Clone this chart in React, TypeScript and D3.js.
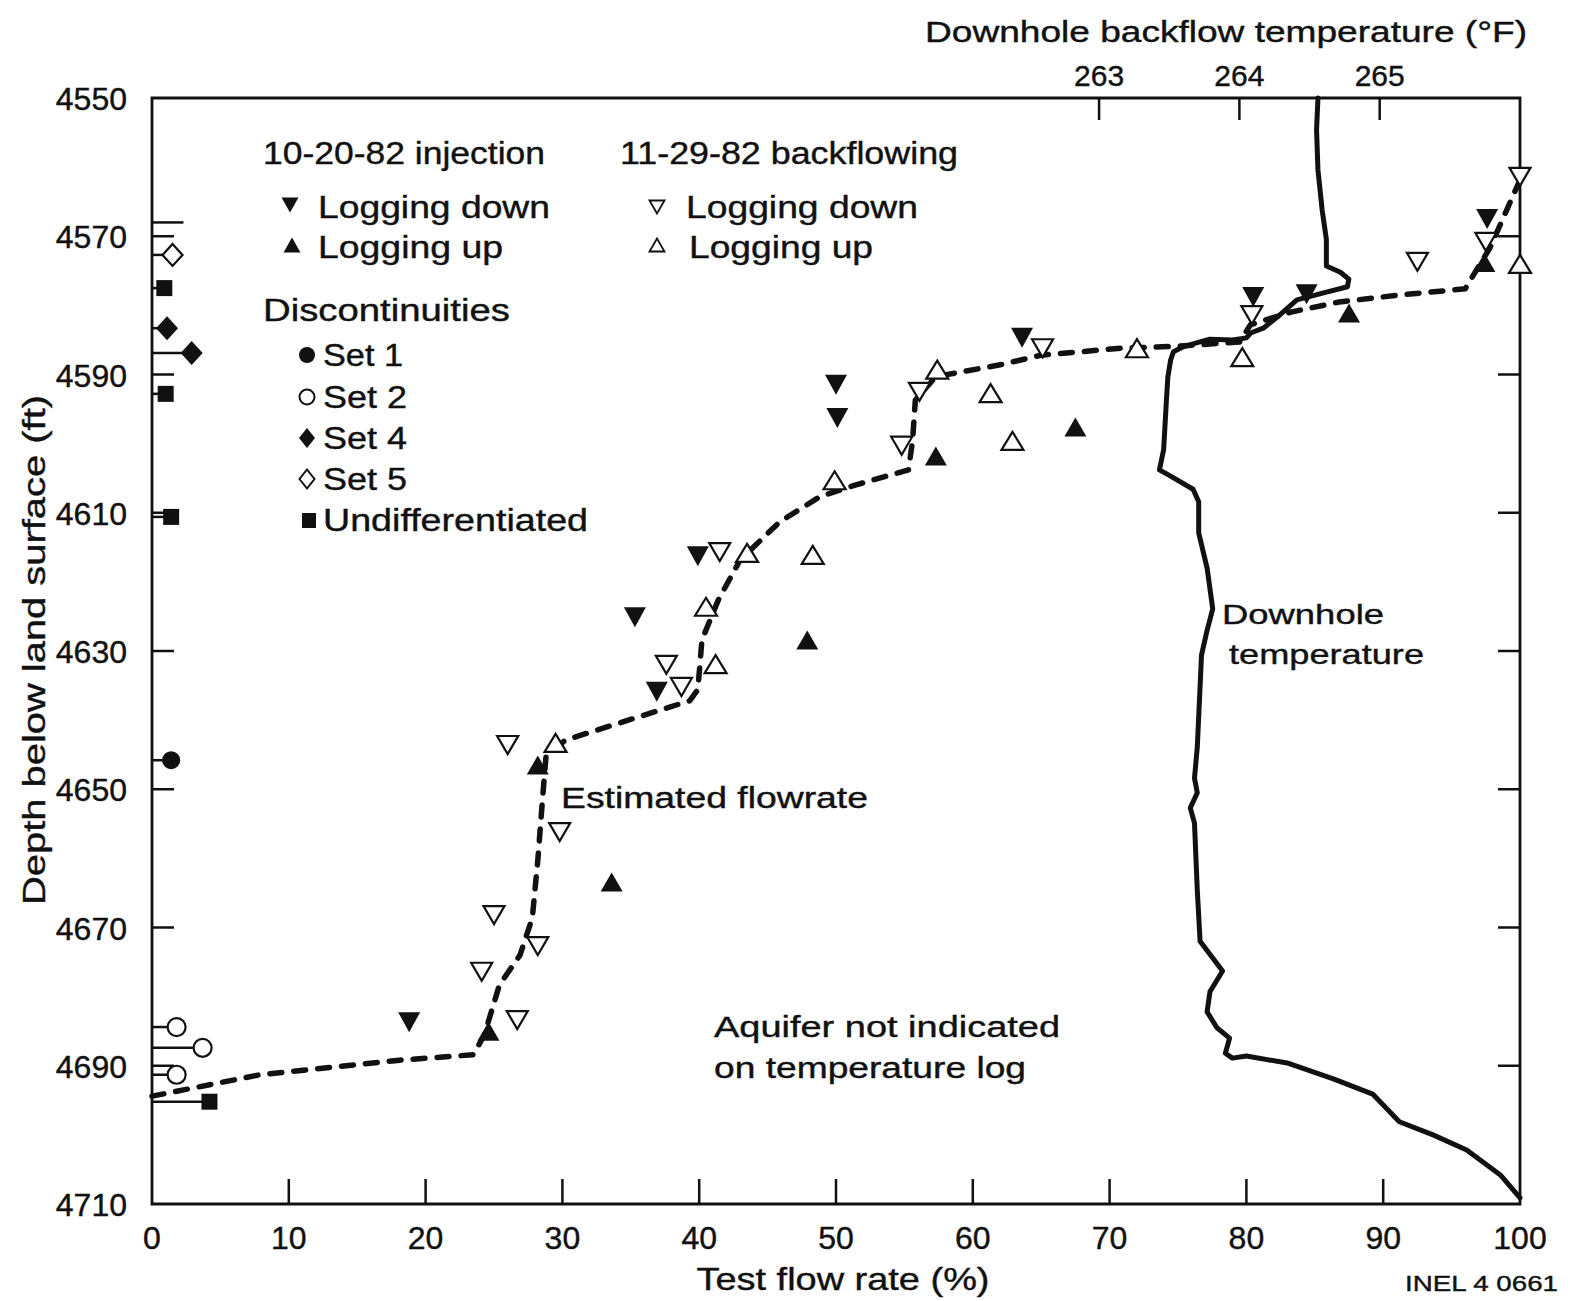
import React from "react";
import * as d3 from "d3";

// ---------- data ----------
const flowTicks = [0, 10, 20, 30, 40, 50, 60, 70, 80, 90, 100];
const depthTicks = [4550, 4570, 4590, 4610, 4630, 4650, 4670, 4690, 4710];
const innerDepthTicks = [4570, 4590, 4610, 4630, 4650, 4670, 4690];
const tempTicks = [263, 264, 265];

// [test flow rate %, depth ft]
const injectionDown = [
  [18.8, 4683.7], [36.9, 4635.9], [35.3, 4625.1], [39.9, 4616.3], [50.0, 4591.5],
  [50.1, 4596.3], [63.6, 4584.7], [80.5, 4578.8], [84.4, 4578.4], [97.6, 4567.5],
];
const injectionUp = [
  [97.4, 4573.8], [87.5, 4581.1], [67.5, 4597.6], [57.3, 4601.8], [47.9, 4628.4],
  [28.2, 4646.5], [33.6, 4663.4], [24.6, 4685.0],
];
const backflowDown = [
  [100, 4561.4], [97.5, 4570.8], [92.5, 4573.7], [80.4, 4581.4], [65.1, 4586.2],
  [56.1, 4592.5], [54.8, 4600.3], [41.5, 4615.7], [37.6, 4632.0], [38.7, 4635.2],
  [26.0, 4643.6], [29.8, 4656.2], [25.0, 4668.2], [28.2, 4672.7], [24.1, 4676.4],
  [26.7, 4683.4],
];
const backflowUp = [
  [100, 4574.0], [79.7, 4587.5], [72.0, 4586.2], [57.4, 4589.3], [61.3, 4592.7],
  [62.9, 4599.6], [49.9, 4605.3], [43.5, 4615.8], [48.3, 4616.1], [40.5, 4623.6],
  [41.2, 4631.9], [29.5, 4643.3],
];

// discontinuities [flow %, depth]
const set1 = [[1.4, 4645.8]];
const set2 = [[1.8, 4684.4], [3.7, 4687.4], [1.8, 4691.3]];
const set4 = [[1.1, 4583.3], [2.9, 4586.9]];
const set5 = [[1.5, 4572.7]];
const undifferentiated = [[0.9, 4577.5], [1.0, 4592.8], [1.4, 4610.6], [4.2, 4695.2]];
const bareStems = [[2.3, 4568.0]];

// estimated flowrate [flow %, depth]
const flowrateLine = [
  [0, 4694.4], [7.9, 4691.3], [18.1, 4689.2], [23.5, 4688.4], [24.3, 4685.5],
  [25.4, 4678.3], [26.9, 4674.0], [27.8, 4668.6], [28.2, 4660.3], [28.6, 4650.1],
  [28.8, 4645.3], [30.2, 4642.9], [39.3, 4637.2], [39.9, 4635.6], [40.2, 4628.4],
  [41.4, 4622.6], [43.0, 4616.8], [45.9, 4611.3], [48.8, 4607.7], [51.4, 4606.0],
  [55.3, 4603.8], [55.6, 4599.5], [55.8, 4593.7], [57.3, 4590.3], [62.0, 4588.6],
  [65.0, 4587.2], [70.8, 4586.2], [75.1, 4585.9], [79.5, 4585.3], [80.3, 4582.8],
  [83.2, 4581.0], [86.8, 4579.5], [91.2, 4578.5], [96.0, 4577.6], [96.9, 4574.6],
  [97.8, 4571.7], [99.9, 4562.3],
];

// downhole temperature [°F, depth]
const temperatureLog = [
  [264.56, 4550.0], [264.55, 4554.6], [264.56, 4560.4], [264.59, 4566.2], [264.62, 4570.5],
  [264.62, 4574.3], [264.72, 4575.2], [264.78, 4576.2], [264.77, 4577.3], [264.60, 4578.2],
  [264.41, 4579.2], [264.27, 4581.7], [264.17, 4583.3], [264.08, 4584.0], [264.05, 4584.7],
  [263.95, 4585.0], [263.79, 4584.9], [263.70, 4585.4], [263.60, 4586.0], [263.53, 4586.7],
  [263.51, 4587.9], [263.49, 4590.4], [263.48, 4593.7], [263.46, 4600.9], [263.43, 4603.8],
  [263.51, 4604.7], [263.67, 4606.6], [263.71, 4608.4], [263.71, 4612.9], [263.77, 4618.0],
  [263.81, 4623.9], [263.77, 4627.0], [263.73, 4630.6], [263.72, 4635.1], [263.70, 4643.9],
  [263.68, 4648.4], [263.70, 4650.5], [263.65, 4652.7], [263.68, 4654.9], [263.70, 4664.6],
  [263.72, 4672.0], [263.88, 4676.3], [263.79, 4679.3], [263.77, 4682.2], [263.84, 4684.5],
  [263.93, 4686.0], [263.90, 4688.2], [263.95, 4688.9], [264.05, 4688.6], [264.34, 4689.6],
  [264.67, 4691.9], [264.95, 4694.1], [265.14, 4698.1], [265.38, 4700.0], [265.62, 4702.2],
  [265.86, 4705.8], [266.00, 4709.1],
];

const FONT = "'Liberation Sans', Arial, Helvetica, sans-serif";

function tri(cx: number, cy: number, w: number, h: number, down: boolean) {
  const p = d3.path();
  if (down) {
    p.moveTo(cx - w / 2, cy - h / 2);
    p.lineTo(cx + w / 2, cy - h / 2);
    p.lineTo(cx, cy + h / 2);
  } else {
    p.moveTo(cx - w / 2, cy + h / 2);
    p.lineTo(cx + w / 2, cy + h / 2);
    p.lineTo(cx, cy - h / 2);
  }
  p.closePath();
  return p.toString();
}

function diamond(cx: number, cy: number, w: number, h: number) {
  const p = d3.path();
  p.moveTo(cx, cy - h / 2);
  p.lineTo(cx + w / 2, cy);
  p.lineTo(cx, cy + h / 2);
  p.lineTo(cx - w / 2, cy);
  p.closePath();
  return p.toString();
}

function T(props: any) {
  const { children, size = 30, ...rest } = props;
  return (
    <text
      fontFamily={FONT}
      fontSize={size}
      fill="#111"
      stroke="#111"
      strokeWidth={0.4}
      lengthAdjust="spacingAndGlyphs"
      {...rest}
    >
      {children}
    </text>
  );
}

export default function App() {
  const left = 152, right = 1520, top = 98, bottom = 1204;
  const x = d3.scaleLinear().domain([0, 100]).range([left, right]);
  const y = d3.scaleLinear().domain([4550, 4710]).range([top, bottom]);
  const xt = d3.scaleLinear().domain([256.25, 266]).range([left, right]);

  const flowPath = d3
    .line<number[]>()
    .x((d) => x(d[0]))
    .y((d) => y(d[1]))(flowrateLine as number[][]);
  const tempPath = d3
    .line<number[]>()
    .x((d) => xt(d[0]))
    .y((d) => y(d[1]))
    .curve(d3.curveLinear)(temperatureLog as number[][]);

  const stroke = "#111";
  const stem = (d: number[], i: number) => (
    <line key={"s" + i} x1={left} x2={x(d[0])} y1={y(d[1])} y2={y(d[1])} stroke={stroke} strokeWidth={2.5} />
  );

  return (
    <svg
      width={1571}
      height={1301}
      style={{ position: "absolute", left: 0, top: 0, background: "#fff" }}
    >
      <rect x={0} y={0} width={1571} height={1301} fill="#fff" />

      {/* frame */}
      <path
        d={`M${left},${top}H${right}V${bottom}H${left}Z`}
        fill="none"
        stroke={stroke}
        strokeWidth={2.8}
      />

      {/* left & right depth ticks */}
      {innerDepthTicks.map((t) => (
        <g key={"yt" + t}>
          <line x1={left} x2={left + 22} y1={y(t)} y2={y(t)} stroke={stroke} strokeWidth={2.5} />
          <line x1={right} x2={right - 22} y1={y(t)} y2={y(t)} stroke={stroke} strokeWidth={2.5} />
        </g>
      ))}
      {depthTicks.map((t) => (
        <T key={"yl" + t} x={127} y={y(t) + 12} size={32} textAnchor="end">
          {t}
        </T>
      ))}

      {/* bottom flow ticks */}
      {flowTicks.map((t) => (
        <g key={"xt" + t}>
          {t > 0 && t < 100 && (
            <line x1={x(t)} x2={x(t)} y1={bottom} y2={bottom - 25} stroke={stroke} strokeWidth={2.5} />
          )}
          <T x={x(t)} y={1249} size={32} textAnchor="middle">
            {t}
          </T>
        </g>
      ))}

      {/* top temperature ticks */}
      {tempTicks.map((t) => (
        <g key={"tt" + t}>
          <line x1={xt(t)} x2={xt(t)} y1={top} y2={top + 22} stroke={stroke} strokeWidth={2.5} />
          <T x={xt(t)} y={86} size={30} textAnchor="middle">
            {t}
          </T>
        </g>
      ))}

      {/* axis titles */}
      <T x={1527} y={42} size={29} textAnchor="end" textLength={602}>
        Downhole backflow temperature (°F)
      </T>
      <T x={843} y={1290} size={32} textAnchor="middle" textLength={293}>
        Test flow rate (%)
      </T>
      <T transform="translate(45,650) rotate(-90)" x={0} y={0} size={31} textAnchor="middle" textLength={510}>
        Depth below land surface (ft)
      </T>
      <T x={1558} y={1291} size={22} textAnchor="end" textLength={153}>
        INEL 4 0661
      </T>

      {/* temperature log */}
      <path d={tempPath || ""} fill="none" stroke={stroke} strokeWidth={5} strokeLinejoin="round" strokeLinecap="round" />

      {/* estimated flowrate */}
      <path
        d={flowPath || ""}
        fill="none"
        stroke={stroke}
        strokeWidth={5.5}
        strokeDasharray="12 12"
        strokeLinecap="round"
        strokeLinejoin="round"
      />

      {/* discontinuity stems */}
      {[...set1, ...set2, ...set4, ...set5, ...undifferentiated, ...bareStems].map(stem)}
      {set1.map((d, i) => (
        <circle key={"a" + i} cx={x(d[0])} cy={y(d[1])} r={9} fill={stroke} />
      ))}
      {set2.map((d, i) => (
        <circle key={"b" + i} cx={x(d[0])} cy={y(d[1])} r={9} fill="#fff" stroke={stroke} strokeWidth={2.2} />
      ))}
      {set4.map((d, i) => (
        <path key={"c" + i} d={diamond(x(d[0]), y(d[1]), 22, 24)} fill={stroke} />
      ))}
      {set5.map((d, i) => (
        <path key={"d" + i} d={diamond(x(d[0]), y(d[1]), 20, 22)} fill="#fff" stroke={stroke} strokeWidth={2.2} />
      ))}
      {undifferentiated.map((d, i) => (
        <rect key={"e" + i} x={x(d[0]) - 8} y={y(d[1]) - 8} width={16} height={16} fill={stroke} />
      ))}

      {/* log points */}
      {backflowDown.map((d, i) => (
        <path key={"bd" + i} d={tri(x(d[0]), y(d[1]), 21, 18, true)} fill="#fff" stroke={stroke} strokeWidth={2.2} strokeLinejoin="miter" />
      ))}
      {backflowUp.map((d, i) => (
        <path key={"bu" + i} d={tri(x(d[0]), y(d[1]), 22, 18, false)} fill="#fff" stroke={stroke} strokeWidth={2.2} />
      ))}
      {injectionDown.map((d, i) => (
        <path key={"id" + i} d={tri(x(d[0]), y(d[1]), 22, 20, true)} fill={stroke} />
      ))}
      {injectionUp.map((d, i) => (
        <path key={"iu" + i} d={tri(x(d[0]), y(d[1]), 22, 19, false)} fill={stroke} />
      ))}

      {/* legend */}
      <T x={263} y={164} size={31} textLength={282}>10-20-82 injection</T>
      <T x={620} y={164} size={31} textLength={338}>11-29-82 backflowing</T>
      <path d={tri(290, 205, 17, 15, true)} fill={stroke} />
      <T x={318} y={218} size={31} textLength={232}>Logging down</T>
      <path d={tri(292, 245, 17, 15, false)} fill={stroke} />
      <T x={318} y={258} size={31} textLength={185}>Logging up</T>
      <path d={tri(657, 207, 15, 13, true)} fill="#fff" stroke={stroke} strokeWidth={1.8} />
      <T x={686} y={218} size={31} textLength={232}>Logging down</T>
      <path d={tri(657, 245, 15, 13, false)} fill="#fff" stroke={stroke} strokeWidth={1.8} />
      <T x={689} y={258} size={31} textLength={184}>Logging up</T>

      <T x={263} y={321} size={31} textLength={247}>Discontinuities</T>
      <circle cx={307} cy={355} r={8} fill={stroke} />
      <T x={323} y={366} size={31} textLength={80}>Set 1</T>
      <circle cx={307} cy={397} r={7.5} fill="#fff" stroke={stroke} strokeWidth={2} />
      <T x={323} y={408} size={31} textLength={84}>Set 2</T>
      <path d={diamond(307, 438, 16, 20)} fill={stroke} />
      <T x={323} y={449} size={31} textLength={84}>Set 4</T>
      <path d={diamond(307, 479, 15, 19)} fill="#fff" stroke={stroke} strokeWidth={2} />
      <T x={323} y={490} size={31} textLength={84}>Set 5</T>
      <rect x={302} y={513} width={14} height={15} fill={stroke} />
      <T x={323} y={531} size={31} textLength={265}>Undifferentiated</T>

      {/* annotations */}
      <T x={561} y={808} size={30} textLength={307}>Estimated flowrate</T>
      <T x={1222} y={624} size={28} textLength={162}>Downhole</T>
      <T x={1229} y={664} size={28} textLength={195}>temperature</T>
      <T x={714} y={1037} size={30} textLength={346}>Aquifer not indicated</T>
      <T x={714} y={1078} size={30} textLength={312}>on temperature log</T>
    </svg>
  );
}
